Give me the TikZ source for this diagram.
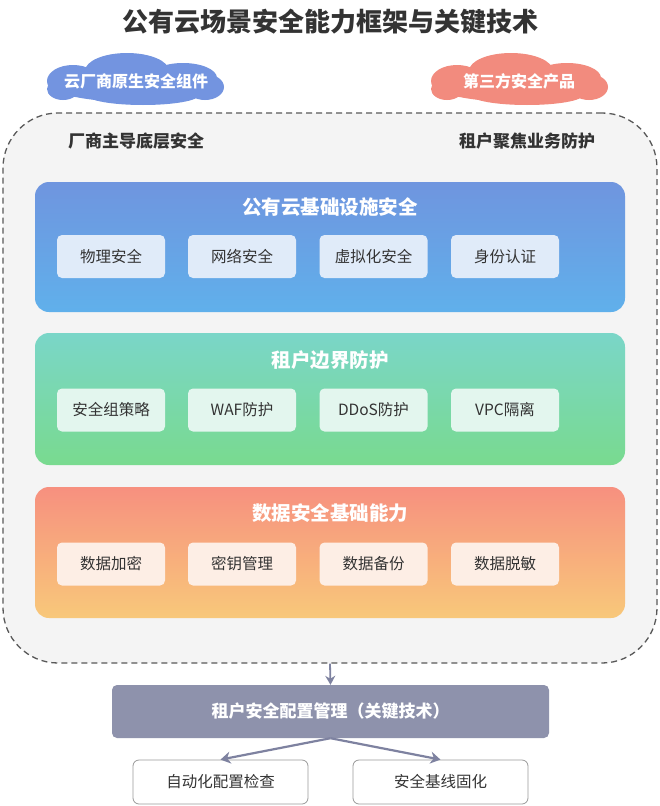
\documentclass[tikz,border=0pt]{standalone}
\usepackage{fontspec}
\setmainfont{Noto Sans CJK SC}
\usetikzlibrary{arrows.meta}
\definecolor{cloudblue}{HTML}{7394E0}
\definecolor{cloudred}{HTML}{F28B7E}
\definecolor{bluetop}{HTML}{6F95DF}
\definecolor{bluebot}{HTML}{60B0EB}
\definecolor{blueitem}{HTML}{E0EBF9}
\definecolor{greentop}{HTML}{7AD6C8}
\definecolor{greenbot}{HTML}{79DA8F}
\definecolor{greenitem}{HTML}{E3F6EE}
\definecolor{orangetop}{HTML}{F7907F}
\definecolor{orangebot}{HTML}{F8C87A}
\definecolor{orangeitem}{HTML}{FDEEE5}
\definecolor{keyfill}{HTML}{8E92AC}
\definecolor{arrowgray}{HTML}{7E82A0}
\definecolor{txt}{HTML}{333333}
\definecolor{contfill}{HTML}{F4F4F4}
\begin{document}
\begin{tikzpicture}[x=1pt,y=-1pt,
  cloudtext/.style={text=white, font=\bfseries\fontsize{16}{19}\selectfont, inner sep=0pt},
  layer/.style={rounded corners=14pt, minimum width=590pt, inner sep=0pt},
  layertitle/.style={text=white, font=\bfseries\fontsize{19.5}{23}\selectfont},
  item/.style={rounded corners=5pt, minimum width=108pt, minimum height=43pt, inner sep=0pt, text=txt, font=\fontsize{15.5}{18}\selectfont},
  sidelabel/.style={text=txt, font=\bfseries\fontsize{17}{20}\selectfont},
  subbox/.style={draw=black!40, fill=white, rounded corners=6pt, minimum width=175pt, minimum height=44pt, inner sep=0pt, text=txt, font=\fontsize{15.5}{18}\selectfont, line width=0.8pt},
  conn/.style={draw=arrowgray, line width=2.2pt, -{Stealth[length=10pt,width=12pt]}},
  pics/cloudblob/.style={code={
    \fill[#1] (0,4) ellipse [x radius=84, y radius=17];
    \fill[#1] (-62,0) ellipse [x radius=26, y radius=16];
    \fill[#1] (-8,-10) ellipse [x radius=42, y radius=18];
    \fill[#1] (48,-3) ellipse [x radius=34, y radius=15];
    \fill[#1] (70,6) ellipse [x radius=19, y radius=13];
    \fill[#1] (8,14) ellipse [x radius=56, y radius=10];
    \fill[#1] (-72,8) ellipse [x radius=16, y radius=11];
  }}
]
\useasboundingbox (0,0) rectangle (660,806);
\fill[white] (0,0) rectangle (660,806);
% title
\node[text=txt, font=\bfseries\fontsize{26}{30}\selectfont] (title) at (330,22) {公有云场景安全能力框架与关键技术};
% container
\node[draw=black!65, dash pattern=on 6pt off 4pt, line width=1.3pt, fill=contfill, rounded corners=55pt, minimum width=654pt, minimum height=550pt, inner sep=0pt] (cont) at (330,388) {};
% clouds
\pic at (135,81) {cloudblob=cloudblue};
\node[cloudtext] (c1t) at (136,81) {云厂商原生安全组件};
\pic at (519,81) {cloudblob=cloudred};
\node[cloudtext] (c2t) at (519,81) {第三方安全产品};
% side labels
\node[sidelabel] (l1) at (136,141) {厂商主导底层安全};
\node[sidelabel] (l2) at (527,141) {租户聚焦业务防护};
% layer 1
\node[layer, minimum height=130pt, top color=bluetop, bottom color=bluebot] (L1) at (330,247) {};
\node[layertitle] (L1t) at (330,207) {公有云基础设施安全};
\node[item, fill=blueitem] (a1) at (111,256.5) {物理安全};
\node[item, fill=blueitem] (a2) at (242,256.5) {网络安全};
\node[item, fill=blueitem] (a3) at (373.5,256.5) {虚拟化安全};
\node[item, fill=blueitem] (a4) at (505,256.5) {身份认证};
% layer 2
\node[layer, minimum height=132pt, top color=greentop, bottom color=greenbot] (L2) at (330,399) {};
\node[layertitle] (L2t) at (330,360) {租户边界防护};
\node[item, fill=greenitem] (b1) at (111,410) {安全组策略};
\node[item, fill=greenitem] (b2) at (242,410) {WAF防护};
\node[item, fill=greenitem] (b3) at (373.5,410) {DDoS防护};
\node[item, fill=greenitem] (b4) at (505,410) {VPC隔离};
% layer 3
\node[layer, minimum height=131pt, top color=orangetop, bottom color=orangebot] (L3) at (330,552.5) {};
\node[layertitle] (L3t) at (330,513) {数据安全基础能力};
\node[item, fill=orangeitem] (d1) at (111,564) {数据加密};
\node[item, fill=orangeitem] (d2) at (242,564) {密钥管理};
\node[item, fill=orangeitem] (d3) at (373.5,564) {数据备份};
\node[item, fill=orangeitem] (d4) at (505,564) {数据脱敏};
% key tech
\node[fill=keyfill, rounded corners=5pt, minimum width=437pt, minimum height=53pt, inner sep=0pt, text=white, font=\bfseries\fontsize{17}{20}\selectfont] (key) at (330.5,711.5) {租户安全配置管理（关键技术）};
\node[subbox] (s1) at (220.5,782) {自动化配置检查};
\node[subbox] (s2) at (440.5,782) {安全基线固化};
% connectors
\draw[draw=arrowgray, line width=1.8pt, -{Stealth[length=9pt,width=10pt]}] (cont.south) -- (key.north);
\draw[conn] (key.south) -- (s1.north);
\draw[conn] (key.south) -- (s2.north);
\end{tikzpicture}
\end{document}
